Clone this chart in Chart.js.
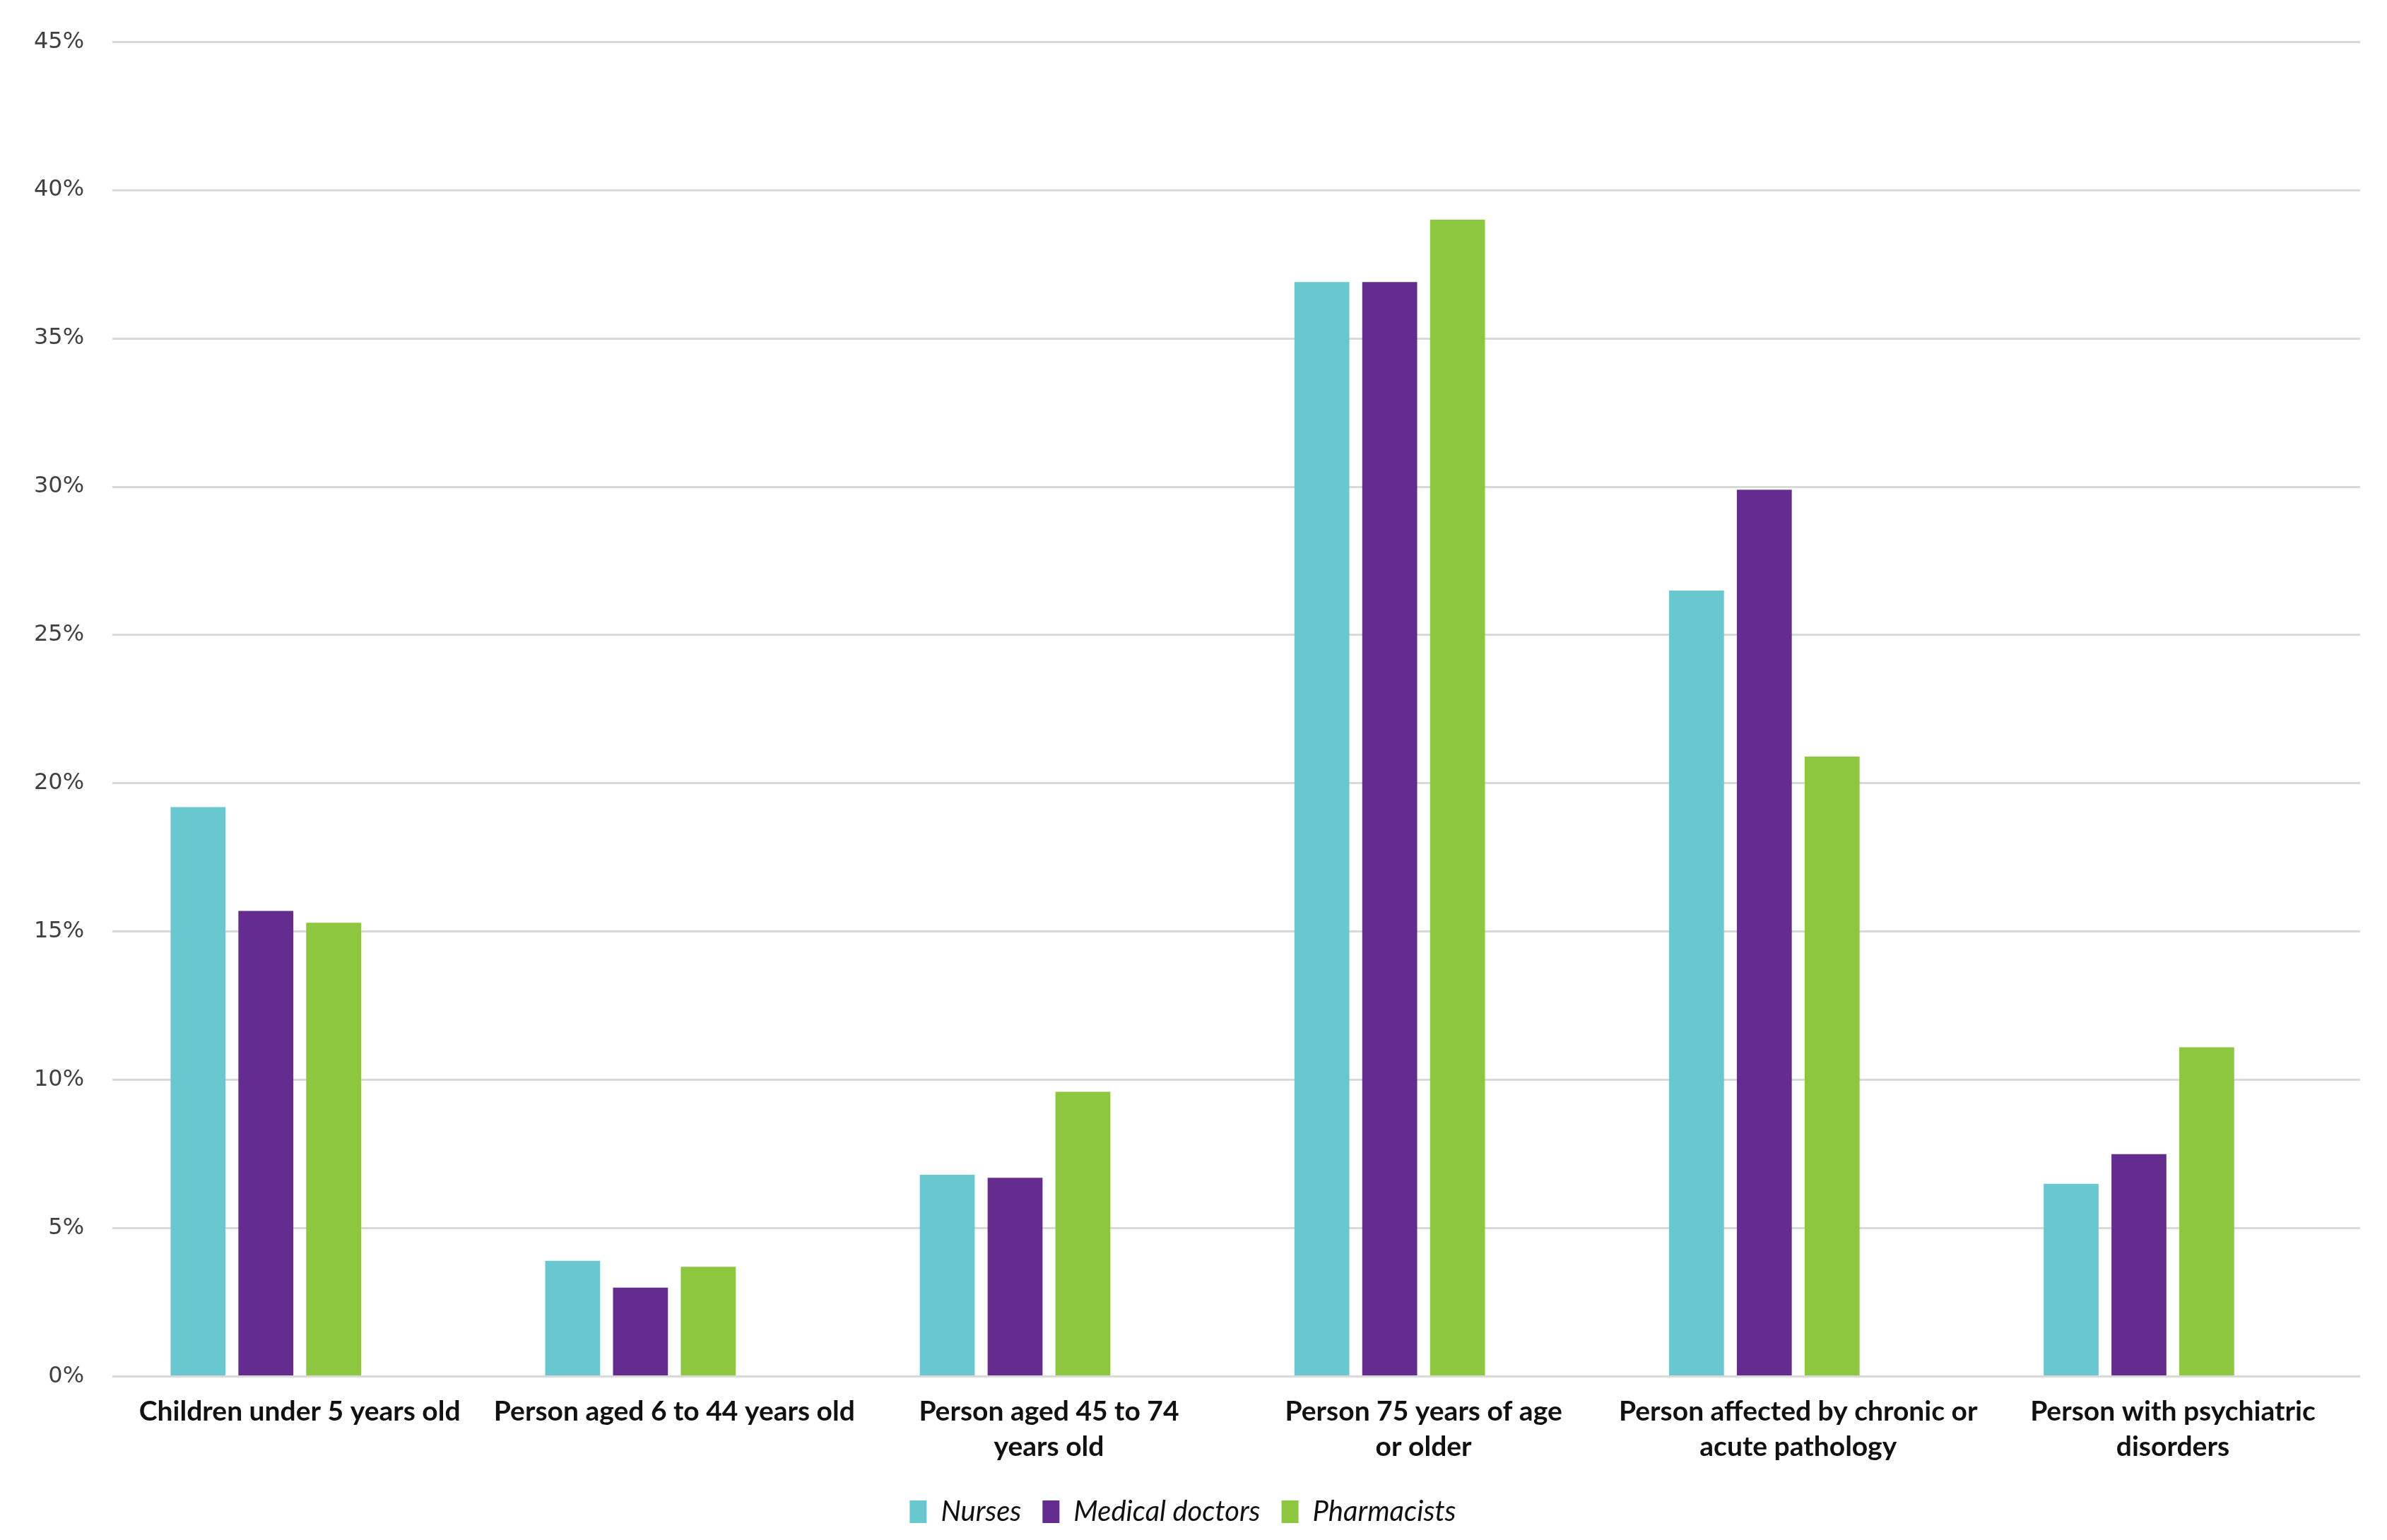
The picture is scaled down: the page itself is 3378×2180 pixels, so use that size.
<!DOCTYPE html>
<html>
<head>
<meta charset="utf-8">
<script src="https://cdn.jsdelivr.net/npm/chart.js@4"></script>
<style>
  html, body { margin: 0; padding: 0; background: #ffffff; }
  #wrap { width: 3378px; height: 2180px; }
</style>
</head>
<body>
<div id="wrap"><canvas id="chart" width="3378" height="2180"></canvas></div>
<script>
const categories = [
    'Children under 5 years old',
    'Person aged 6 to 44 years old',
    ['Person aged 45 to 74', 'years old'],
    ['Person 75 years of age', 'or older'],
    ['Person affected by chronic or', 'acute pathology'],
    ['Person with psychiatric', 'disorders']
];
const nurses = [19.2, 3.9, 6.8, 36.9, 26.5, 6.5];
const doctors = [15.7, 3.0, 6.7, 36.9, 29.9, 7.5];
const pharmacists = [15.3, 3.7, 9.6, 39.0, 20.9, 11.1];
// the original has an empty fourth slot in every group
const emptySlot = [null, null, null, null, null, null];
const yTicks = [0, 5, 10, 15, 20, 25, 30, 35, 40, 45];

const ctx = document.getElementById('chart').getContext('2d');

const barStyle = {
    categoryPercentage: 0.724,
    barPercentage: 0.81,
    borderWidth: 0
};

new Chart(ctx, {
    type: 'bar',
    data: {
        labels: categories,
        datasets: [
            { label: 'Nurses', data: nurses, backgroundColor: '#68c7cf', ...barStyle },
            { label: 'Medical doctors', data: doctors, backgroundColor: '#652c8f', ...barStyle },
            { label: 'Pharmacists', data: pharmacists, backgroundColor: '#8dc63f', ...barStyle },
            { label: '', data: emptySlot, backgroundColor: 'rgba(0,0,0,0)', ...barStyle }
        ]
    },
    options: {
        responsive: false,
        animation: false,
        devicePixelRatio: 1,
        layout: {
            padding: { top: 36, right: 38, left: 8, bottom: 10 }
        },
        plugins: {
            legend: {
                position: 'bottom',
                labels: {
                    filter: (item) => item.datasetIndex < 3,
                    boxWidth: 24,
                    boxHeight: 32,
                    padding: 30,
                    color: '#111111',
                    font: { family: 'Lato', style: 'italic', size: 40 }
                }
            },
            tooltip: { enabled: false }
        },
        scales: {
            x: {
                grid: { display: false },
                border: { display: false },
                ticks: {
                    color: '#111111',
                    padding: 16,
                    maxRotation: 0,
                    autoSkip: false,
                    font: { family: 'Lato', weight: 'bold', size: 39, lineHeight: 1.3 }
                }
            },
            y: {
                min: 0,
                max: 45,
                afterBuildTicks: (axis) => {
                    axis.ticks = yTicks.map(v => ({ value: v }));
                },
                grid: { color: '#d9d9d9', lineWidth: 3, drawTicks: false },
                border: { display: false },
                ticks: {
                    color: '#404040',
                    padding: 40,
                    callback: (value) => `${value}%`,
                    font: { family: 'DejaVu Sans', size: 32 }
                }
            }
        }
    }
});
</script>
</body>
</html>
